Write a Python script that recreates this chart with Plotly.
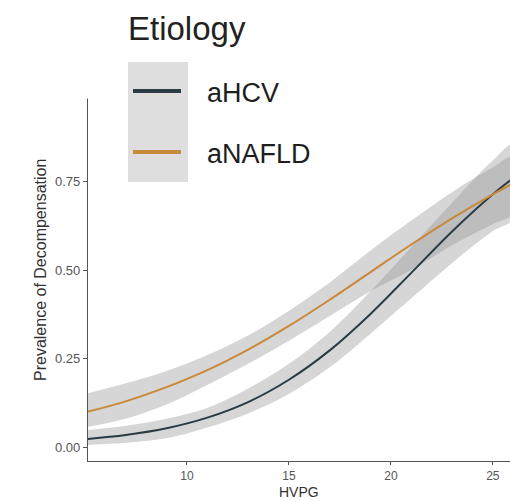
import plotly.graph_objects as go

# Fitted prevalence of decompensation by HVPG, with confidence bands
hvpg = [5.15, 7, 9, 11, 13, 15, 17, 19, 21, 23, 25, 26]

hcv_fit = [0.023, 0.034, 0.053, 0.083, 0.127, 0.190, 0.273, 0.376, 0.492, 0.609, 0.714, 0.760]
hcv_lo = [0.006, 0.012, 0.025, 0.055, 0.095, 0.150, 0.225, 0.320, 0.420, 0.520, 0.610, 0.645]
hcv_hi = [0.048, 0.060, 0.080, 0.110, 0.165, 0.235, 0.325, 0.440, 0.565, 0.690, 0.810, 0.855]

nafld_fit = [0.100, 0.129, 0.169, 0.217, 0.275, 0.342, 0.416, 0.494, 0.572, 0.646, 0.714, 0.745]
nafld_lo = [0.057, 0.080, 0.120, 0.175, 0.235, 0.300, 0.370, 0.440, 0.500, 0.570, 0.630, 0.660]
nafld_hi = [0.152, 0.180, 0.215, 0.260, 0.315, 0.385, 0.465, 0.555, 0.640, 0.720, 0.790, 0.820]

groups = ["aHCV", "aNAFLD"]
colors = {"aHCV": "#2b3b44", "aNAFLD": "#c8893a"}
series = {
    "aHCV": (hcv_fit, hcv_lo, hcv_hi),
    "aNAFLD": (nafld_fit, nafld_lo, nafld_hi),
}

y_ticks = [0.0, 0.25, 0.5, 0.75, 1.0]
y_ticktext = ["0.00", "0.25", "0.50", "0.75", "1.00"]
x_ticks = [10, 15, 20, 25]

W, H = 510, 501
ML, MR, MT, MB = 88, 0, 75, 40
PW, PH = W - ML - MR, H - MT - MB


def px_x(p):
    return (p - ML) / PW


def px_y(p):
    return (H - MB - p) / PH


FONT = "Liberation Sans, Arial, Helvetica, sans-serif"

fig = go.Figure()

for g in groups:
    fit, lo, hi = series[g]
    fig.add_trace(go.Scatter(
        x=hvpg + hvpg[::-1], y=hi + lo[::-1],
        fill="toself", fillcolor="rgba(153,153,153,0.4)",
        line=dict(width=0, shape="spline"), mode="lines",
        hoverinfo="skip", showlegend=False,
    ))

for g in groups:
    fit, lo, hi = series[g]
    fig.add_trace(go.Scatter(
        x=hvpg, y=fit, mode="lines", name=g,
        line=dict(color=colors[g], width=2, shape="spline"),
        showlegend=False,
    ))

shapes = [
    # white strip across the top
    dict(type="rect", xref="paper", yref="paper", layer="above",
         x0=-0.3, x1=1.05, y0=px_y(98.5), y1=1.2,
         fillcolor="white", line=dict(width=0)),
    # legend key panel
    dict(type="rect", xref="paper", yref="paper", layer="above",
         x0=px_x(128), x1=px_x(188), y0=px_y(182), y1=px_y(62),
         fillcolor="#dedede", line=dict(width=0)),
]
for g, ky in zip(groups, [91, 152]):
    shapes.append(dict(type="line", xref="paper", yref="paper", layer="above",
                       x0=px_x(133), x1=px_x(181), y0=px_y(ky), y1=px_y(ky),
                       line=dict(color=colors[g], width=4)))

annotations = [
    dict(text="Etiology", xref="paper", yref="paper", x=px_x(126), y=px_y(28),
         xanchor="left", yanchor="middle", showarrow=False,
         font=dict(size=33, color="#222222", family=FONT)),
    dict(text="Prevalence of Decompensation", xref="paper", yref="paper",
         x=px_x(40), y=px_y(270), textangle=-90, showarrow=False,
         xanchor="center", yanchor="middle",
         font=dict(size=16, color="#333333", family=FONT)),
    dict(text="HVPG", xref="paper", yref="paper", x=px_x(299), y=px_y(492),
         xanchor="center", yanchor="middle", showarrow=False,
         font=dict(size=14, color="#333333", family=FONT)),
]
for g, ky in zip(groups, [93, 154]):
    annotations.append(dict(text=g, xref="paper", yref="paper", x=px_x(205), y=px_y(ky),
                            xanchor="left", yanchor="middle", showarrow=False,
                            font=dict(size=27, color="#1e1e1e", family=FONT)))

fig.update_layout(
    width=W, height=H,
    margin=dict(l=ML, r=MR, t=MT, b=MB),
    plot_bgcolor="white", paper_bgcolor="white",
    showlegend=False,
    shapes=shapes, annotations=annotations,
    xaxis=dict(range=[5.15, 25.84], tickvals=x_ticks, showgrid=False, zeroline=False,
               showline=True, linecolor="#555555", linewidth=1.3,
               ticks="outside", ticklen=3, tickcolor="#555555",
               tickfont=dict(size=12, color="#555555", family=FONT)),
    yaxis=dict(range=[-0.0395, -0.0395 + PH / 354], tickvals=y_ticks, ticktext=y_ticktext,
               showgrid=False, zeroline=False,
               showline=True, linecolor="#555555", linewidth=1.3,
               ticks="outside", ticklen=4, tickcolor="#555555",
               tickfont=dict(size=13, color="#555555", family=FONT)),
)

fig.write_html("out.html")
